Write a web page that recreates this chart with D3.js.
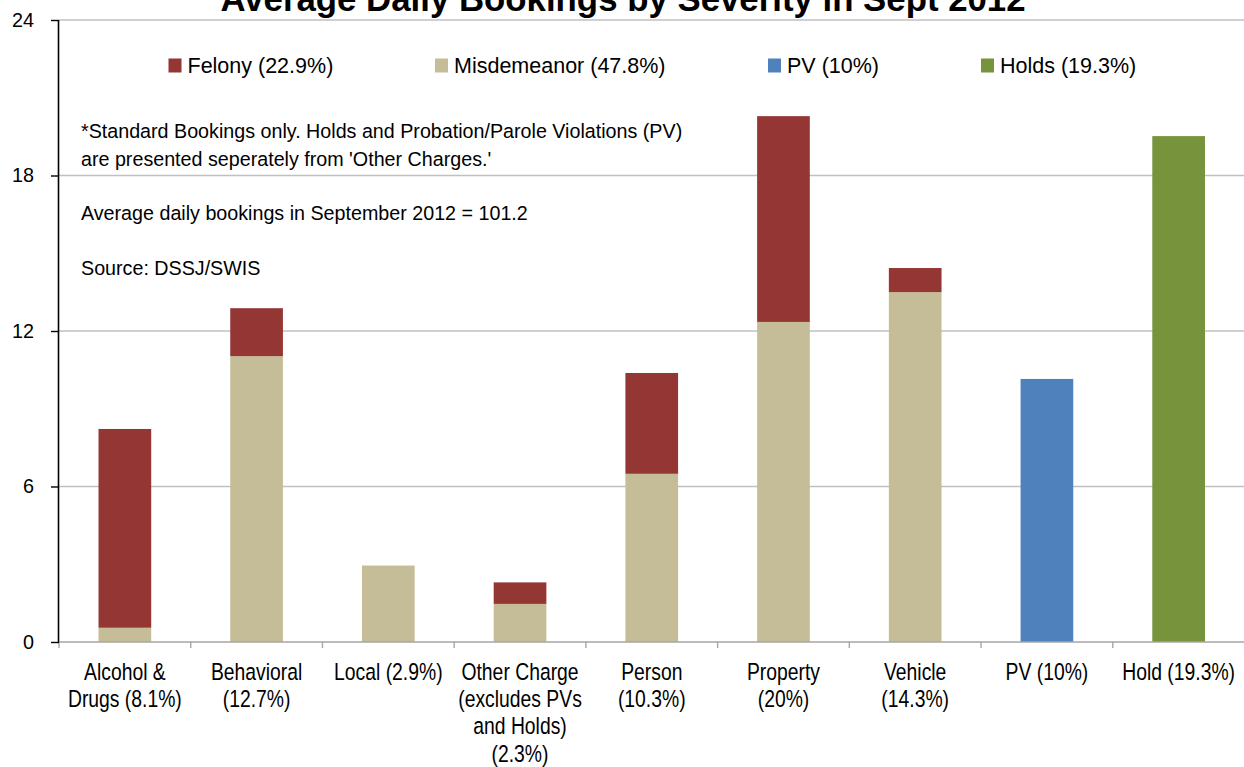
<!DOCTYPE html>
<html>
<head>
<meta charset="utf-8">
<script src="https://cdn.jsdelivr.net/npm/d3@7"></script>
<style>
  html, body { margin: 0; padding: 0; background: #fff; }
  svg { display: block; font-family: "Liberation Sans", Arial, sans-serif; }
</style>
</head>
<body>
<svg id="chart" width="1244" height="767"></svg>
<script>
// ---------- DATA ----------
const categories = ["Alcohol & Drugs", "Behavioral", "Local", "Other Charge", "Person", "Property", "Vehicle", "PV", "Hold"];
const categoryLabels = [
  ["Alcohol &", "Drugs (8.1%)"],
  ["Behavioral", "(12.7%)"],
  ["Local (2.9%)"],
  ["Other Charge", "(excludes PVs", "and Holds)", "(2.3%)"],
  ["Person", "(10.3%)"],
  ["Property", "(20%)"],
  ["Vehicle", "(14.3%)"],
  ["PV (10%)"],
  ["Hold (19.3%)"]
];
const misdemeanor = [0.55, 11.03, 2.95, 1.47, 6.49, 12.35, 13.50, 0, 0];
const felony      = [7.67, 1.85, 0, 0.83, 3.89, 7.94, 0.93, 0, 0];
const pv          = [0, 0, 0, 0, 0, 0, 0, 10.15, 0];
const holds       = [0, 0, 0, 0, 0, 0, 0, 0, 19.52];
const seriesKeys   = ["misdemeanor", "felony", "pv", "holds"];
const legendLabels = ["Felony (22.9%)", "Misdemeanor (47.8%)", "PV (10%)", "Holds (19.3%)"];
const legendKeys   = ["felony", "misdemeanor", "pv", "holds"];
const yTicks = [0, 6, 12, 18, 24];
const titleText = "Average Daily Bookings by Severity in Sept 2012";
const notes = [
  "*Standard Bookings only. Holds and Probation/Parole Violations (PV)",
  "are presented seperately from 'Other Charges.'",
  "Average daily bookings in September 2012 = 101.2",
  "Source: DSSJ/SWIS"
];

// ---------- STYLE ----------
const colors = { felony: "#943634", misdemeanor: "#c4bd97", pv: "#4f81bd", holds: "#77933c" };

const table = categories.map((c, i) => ({
  category: c, misdemeanor: misdemeanor[i], felony: felony[i], pv: pv[i], holds: holds[i]
}));

const svg = d3.select("#chart");
const plotLeft = 59, plotRight = 1244.5, plotTop = 20, plotBottom = 642;

const x = d3.scaleBand().domain(categories).range([plotLeft, plotRight]).padding(0);
const y = d3.scaleLinear().domain([0, 24]).range([plotBottom, plotTop]);

// gridlines
svg.append("g").selectAll("line").data(yTicks.filter(t => t > 0)).join("line")
  .attr("x1", plotLeft).attr("x2", 1244)
  .attr("y1", d => y(d)).attr("y2", d => y(d))
  .attr("stroke", "#c0c0c0").attr("stroke-width", 1.6);

// bars
const stacked = d3.stack().keys(seriesKeys)(table);
const barW = x.bandwidth() * 0.4;
svg.append("g").selectAll("g").data(stacked).join("g")
  .attr("fill", d => colors[d.key])
  .selectAll("rect").data(d => d.filter(p => p[1] - p[0] > 0)).join("rect")
  .attr("x", d => x(d.data.category) + (x.bandwidth() - barW) / 2)
  .attr("width", barW)
  .attr("y", d => y(d[1]))
  .attr("height", d => y(d[0]) - y(d[1]));

// x axis
const xAxis = svg.append("g").attr("transform", `translate(0,${plotBottom})`);
xAxis.append("line").attr("x1", plotLeft).attr("x2", 1244).attr("y1", 0).attr("y2", 0)
  .attr("stroke", "#a6a6a6").attr("stroke-width", 1.6);
const boundaries = categories.map(c => x(c));
xAxis.selectAll("line.tick").data(boundaries).join("line").attr("class", "tick")
  .attr("x1", d => d).attr("x2", d => d).attr("y1", 0).attr("y2", 6)
  .attr("stroke", "#a6a6a6").attr("stroke-width", 1.4);

// x labels (narrow-looking font: condensed horizontally)
const labelG = svg.append("g");
categories.forEach((c, i) => {
  const cx = x(c) + x.bandwidth() / 2;
  categoryLabels[i].forEach((line, j) => {
    labelG.append("text")
      .attr("transform", `translate(${cx},${680 + j * 27.2}) scale(0.83,1)`)
      .attr("text-anchor", "middle")
      .attr("font-size", "23.3px")
      .attr("fill", "#000")
      .text(line);
  });
});

// y axis
const yAxis = d3.axisLeft(y).tickValues(yTicks).tickSize(8).tickPadding(17).tickFormat(d3.format("d"));
const yg = svg.append("g").attr("transform", `translate(${plotLeft},0)`).call(yAxis);
yg.select(".domain").attr("stroke", "#000").attr("stroke-width", 1.6).attr("d", `M-0.5,${plotTop}V${plotBottom}`);
yg.selectAll(".tick line").attr("stroke", "#000").attr("stroke-width", 1.4);
yg.selectAll(".tick text").attr("font-size", "19.8px").attr("font-family", "Liberation Sans, Arial, sans-serif").attr("fill", "#000");

// title
svg.append("text").attr("x", 623).attr("y", 11)
  .attr("text-anchor", "middle").attr("font-size", "34.8px").attr("font-weight", "bold")
  .attr("fill", "#000").text(titleText);

// legend
const legendX = [168.5, 435, 768, 981];
const lg = svg.append("g");
legendKeys.forEach((k, i) => {
  lg.append("rect").attr("x", legendX[i]).attr("y", 58.5).attr("width", 13).attr("height", 14)
    .attr("fill", colors[k]);
  lg.append("text").attr("x", legendX[i] + 19).attr("y", 73)
    .attr("font-size", "21.5px").attr("fill", "#000").text(legendLabels[i]);
});

// notes
const noteY = [137.5, 165.5, 220, 275];
svg.append("g").selectAll("text").data(notes).join("text")
  .attr("x", 81).attr("y", (d, i) => noteY[i])
  .attr("font-size", "19.7px").attr("fill", "#000").text(d => d);
</script>
</body>
</html>
